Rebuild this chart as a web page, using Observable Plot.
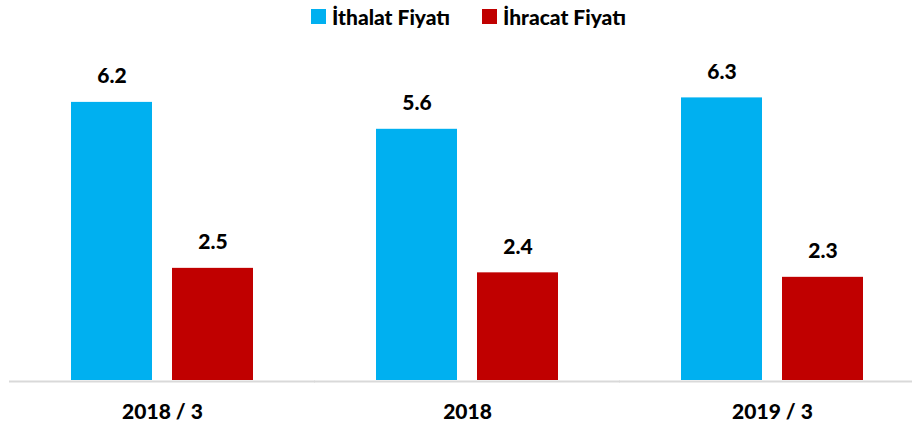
<!DOCTYPE html>
<html>
<head>
<meta charset="utf-8">
<script src="https://cdn.jsdelivr.net/npm/d3@7"></script>
<script src="https://cdn.jsdelivr.net/npm/@observablehq/plot@0.6"></script>
<style>
  html, body { margin: 0; padding: 0; background: #fff; overflow: hidden; }
  body { width: 912px; height: 427px; font-family: Lato, "Open Sans", sans-serif; }
  #legend { position: relative; height: 30px; font-weight: 900; font-size: 21px; color: #000; }
  .item { position: absolute; top: 2px; display: flex; align-items: center; height: 28px; }
  .sw { width: 15px; height: 15px; margin-right: 6px; }
  svg { overflow: visible; }
</style>
</head>
<body>
<div id="legend"></div>
<div id="chart"></div>
<script>
const categories = ["2018 / 3", "2018", "2019 / 3"];
const series = ["İthalat Fiyatı", "İhracat Fiyatı"];
const ithalat = [6.2, 5.6, 6.3];
const ihracat = [2.5, 2.4, 2.3];
const colors = ["#00B0F0", "#C00000"];

const data = [];
categories.forEach((c, i) => {
  data.push({cat: c, series: series[0], value: ithalat[i]});
  data.push({cat: c, series: series[1], value: ihracat[i]});
});

const legendLeft = [311, 482];
const legend = document.getElementById("legend");
series.forEach((s, i) => {
  const it = document.createElement("div");
  it.className = "item";
  it.style.left = legendLeft[i] + "px";
  const sw = document.createElement("div");
  sw.className = "sw";
  sw.style.background = colors[i];
  const t = document.createElement("span");
  t.textContent = s;
  it.appendChild(sw); it.appendChild(t);
  legend.appendChild(it);
});

const chart = Plot.plot({
  width: 912,
  height: 397,
  marginTop: 36,
  marginBottom: 47,
  marginLeft: 0,
  marginRight: 0,
  style: {fontFamily: "Lato, sans-serif", fontWeight: "900", fontSize: "21px", color: "#000", background: "#fff"},
  fx: {domain: categories, range: [70, 864], paddingInner: 0.397, paddingOuter: 0, label: null},
  x: {domain: series, paddingInner: 0.196, paddingOuter: 0, axis: null},
  y: {domain: [0, 7], axis: null},
  color: {domain: series, range: colors},
  marks: [
    Plot.barY(data, {fx: "cat", x: "series", y: "value", fill: "series"}),
    Plot.ruleY([0], {stroke: "#d9d9d9", strokeWidth: 2, dy: 1, insetLeft: -61, insetRight: -61}),
    Plot.text(data, {fx: "cat", x: "series", y: "value", text: d => d.value.toFixed(1), lineAnchor: "bottom", dy: -19, fill: "#000", fontWeight: "900", fontSize: 21}),
    Plot.axisFx({anchor: "bottom", tickSize: 0, tickPadding: 24, fontSize: 21, fontWeight: "900", label: null})
  ]
});
document.getElementById("chart").appendChild(chart);
</script>
</body>
</html>
